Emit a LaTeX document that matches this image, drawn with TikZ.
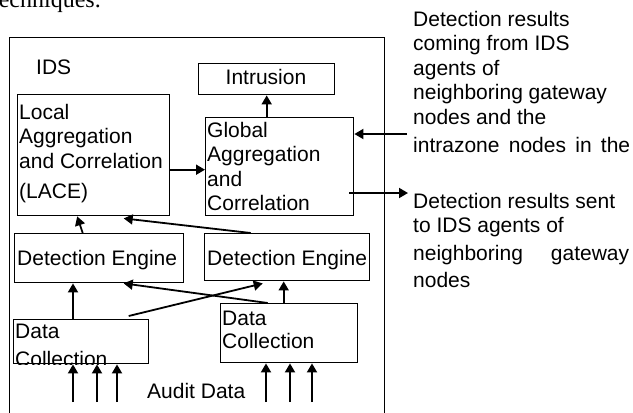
\documentclass[tikz,border=0pt]{standalone}
\usepackage{fontspec}
\setmainfont{Liberation Sans}
\newfontfamily\pageserif{Liberation Serif}
\usetikzlibrary{arrows.meta}

% first-line-baseline stack of left-aligned lines
\newcommand\linestack[2][24.5pt]{\vtop{\baselineskip=#1\lineskiplimit=-100pt\halign{##\hfil\cr#2\crcr}}}

\tikzset{
  boxnode/.style={draw, line width=1.4pt, inner sep=0pt, anchor=north west},
  label/.style={inner sep=0pt, anchor=base west, font=\fontsize{21}{24.5}\selectfont},
  arr/.style={line width=1.8pt, -{Triangle[length=9pt,width=10pt]}},
}

\begin{document}
\begin{tikzpicture}[x=1pt, y=-1pt]
\useasboundingbox (0,0) rectangle (633,413);
\clip (0,0) rectangle (633,413);

% running text of the page above the figure
\node[inner sep=0pt, anchor=base east, font=\pageserif\fontsize{24}{28}\selectfont] (pagetext) at (101,7) {techniques.};

% outer IDS frame
\node[boxnode, minimum width=375pt, minimum height=400pt] (idsframe) at (9,37) {};
\node[label] (idslabel) at (36,74) {IDS};

% boxes
\node[boxnode, minimum width=136pt, minimum height=31pt] (intrusion) at (198,63) {};
\node[boxnode, minimum width=152pt, minimum height=121pt] (lace) at (17,94) {};
\node[boxnode, minimum width=148pt, minimum height=98pt] (gac) at (205,117) {};
\node[boxnode, minimum width=169pt, minimum height=49pt] (deleft) at (14,233) {};
\node[boxnode, minimum width=165pt, minimum height=47pt] (deright) at (204,233) {};
\node[boxnode, minimum width=135pt, minimum height=44pt] (dcleft) at (13,319) {};
\node[boxnode, minimum width=137pt, minimum height=59pt] (dcright) at (220,303) {};

% box texts
\node[label, anchor=base] (intrusiontext) at (266,84) {Intrusion};
\node[label] (lacetext) at (19,119) {\linestack{Local\cr Aggregation\cr and Correlation\cr\noalign{\vskip5.5pt}(LACE)}};
\node[label] (gactext) at (207,137) {\linestack{Global\cr Aggregation\cr and\cr Correlation}};
\node[label] (delefttext) at (17,265) {Detection Engine};
\node[label] (derighttext) at (207,265) {Detection Engine};
\node[label] (dcrighttext) at (222,325) {\linestack[23.5pt]{Data\cr Collection}};
\begin{scope}
  \clip (dcleft.north west) rectangle (dcleft.south east);
  \node[label] (dclefttext) at (15,338) {\linestack[28pt]{Data\cr Collection}};
\end{scope}
\node[label] (audit) at (147,398) {Audit Data};

% side texts
\node[label] (incomingtext) at (413,26) {\linestack{Detection results\cr coming from IDS\cr agents of\cr neighboring gateway\cr nodes and the\cr\noalign{\vskip4pt}\hbox to 217pt{intrazone\hfill nodes\hfill in\hfill the}}};
\node[label] (outgoingtext) at (413,208) {\linestack[24pt]{Detection results sent\cr to IDS agents of\cr\noalign{\vskip4pt}\hbox to 216pt{neighboring\hfill gateway}\cr\noalign{\vskip3pt}nodes}};

% free ends of the external and audit arrows
\coordinate (extin) at (407,134);
\coordinate (extout) at (408,193);
\coordinate (aud1) at (73,402);
\coordinate (aud2) at (97,402);
\coordinate (aud3) at (117,402);
\coordinate (aud4) at (266,402);
\coordinate (aud5) at (290,402);
\coordinate (aud6) at (312,402);

% connectors
\draw[arr] (gac.north -| intrusion.south) -- (intrusion.south);
\draw[arr] ([yshift=-14.5pt]lace.east) -- ([yshift=-14.5pt]lace.east -| gac.west);
\draw[arr] ([xshift=-16.5pt]deleft.north) -- ([xshift=-16.5pt]lace.south);
\draw[arr] ([xshift=-36.5pt]deright.north) -- ([xshift=30pt,yshift=-2pt]lace.south);
\draw[arr] (dcleft.north -| aud1) -- (deleft.south -| aud1);
\draw[arr] ([xshift=-5.5pt]dcright.north) -- ([xshift=-5.5pt]dcright.north |- deright.south);
\draw[arr] ([xshift=47.5pt,yshift=3pt]dcleft.north) -- ([xshift=-24.5pt,yshift=-2pt]deright.south);
\draw[arr] ([xshift=-21.5pt]dcright.north) -- ([xshift=24.5pt]deleft.south);

\foreach \a in {aud1,aud2,aud3} \draw[arr] (\a) -- (\a |- dcleft.south);
\foreach \a in {aud4,aud5,aud6} \draw[arr] (\a) -- (\a |- dcright.south);

\draw[arr] (extin) -- (extin -| gac.east);
\draw[arr] ([xshift=-5pt]gac.east |- extout) -- (extout);
\end{tikzpicture}
\end{document}
